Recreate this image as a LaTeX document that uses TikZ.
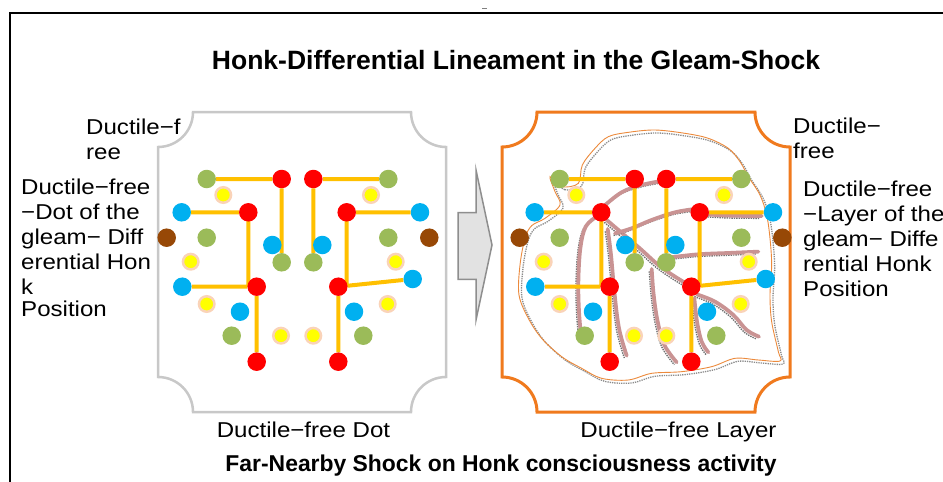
\documentclass[tikz,border=0pt]{standalone}
\usepackage{fontspec}
\setmainfont{Liberation Sans}
\newfontfamily\lblfont[FakeStretch=1.12]{Liberation Sans}

\pgfdeclarelayer{panel}
\pgfdeclarelayer{wire}
\pgfsetlayers{panel,wire,main}

\definecolor{dotgreen}{HTML}{9BBB59}
\definecolor{dotred}{HTML}{FF0000}
\definecolor{dotblue}{HTML}{00B0F0}
\definecolor{dotyellow}{HTML}{FFFF00}
\definecolor{halo}{HTML}{FAD3B8}
\definecolor{dotbrown}{HTML}{974806}
\definecolor{wireorange}{HTML}{FFC000}
\definecolor{panelgray}{HTML}{C8C8C8}
\definecolor{panelorange}{HTML}{F07A1E}
\definecolor{veincol}{HTML}{C99393}
\definecolor{blobcol}{HTML}{EC8A3C}
\definecolor{arrowfill}{HTML}{E2E2E2}
\definecolor{arrowline}{HTML}{8E8E8E}

\tikzset{
  spot/.style={circle, inner sep=0pt, minimum size=18.5pt},
  gdot/.style={spot, fill=dotgreen},
  rdot/.style={spot, fill=dotred},
  bdot/.style={spot, fill=dotblue},
  ndot/.style={spot, fill=dotbrown},
  ydot/.style={circle, inner sep=0pt, minimum size=15.5pt, fill=dotyellow, draw=halo, line width=2.5pt},
  wire/.style={draw=wireorange, line width=4pt},
  veinline/.style={draw=veincol, line width=3.8pt, line cap=round},
  veinshade/.style={densely dotted, draw=black!55, line width=1.4pt, shift={(-7,7)}},
  blobline/.style={draw=blobcol, line width=0.9pt},
  blobshade/.style={densely dotted, draw=black!45, line width=1.3pt, shift={(9,9)}},
  sidetext/.style={inner sep=0pt, align=left, font=\lblfont\fontsize{21.5}{25}\selectfont},
  captext/.style={inner sep=0pt, font=\lblfont\fontsize{21.5}{25}\selectfont},
  headtext/.style={inner sep=0pt, font=\bfseries\fontsize{26.5}{30}\selectfont},
  foottext/.style={inner sep=0pt, font=\bfseries\fontsize{22.9}{26}\selectfont},
}

% frame with concave quarter-circle corners
\newcommand\notchpanel[5][]{%
  \draw[#1] (#2+35,#3) -- (#4-35,#3) arc[start angle=180,end angle=90,radius=35]
    -- (#4,#5-35) arc[start angle=270,end angle=180,radius=35]
    -- (#2+35,#5) arc[start angle=0,end angle=-90,radius=35]
    -- (#2,#3+35) arc[start angle=90,end angle=0,radius=35] -- cycle;}

% one grid of coloured dots with its orange wiring; #1 = name prefix, #2 = x offset
\newcommand\dotgrid[2]{%
  \begin{scope}[shift={(#2,0)}]
    \node[gdot] (#1g1) at (206.7,179) {};
    \node[rdot] (#1r1) at (281.7,179) {};
    \node[rdot] (#1r2) at (313.3,179) {};
    \node[gdot] (#1g2) at (388.3,179) {};
    \node[ydot] (#1y1) at (223.3,195) {};
    \node[ydot] (#1y2) at (371,195) {};
    \node[bdot] (#1b1) at (181.7,212.3) {};
    \node[rdot] (#1r3) at (248.3,212.3) {};
    \node[rdot] (#1r4) at (346.7,212.3) {};
    \node[bdot] (#1b2) at (420,212.3) {};
    \node[ndot] (#1n1) at (166.7,237.7) {};
    \node[gdot] (#1g3) at (206.7,237.7) {};
    \node[gdot] (#1g4) at (388.3,237.7) {};
    \node[ndot] (#1n2) at (429.3,237.7) {};
    \node[bdot] (#1b3) at (272.3,245) {};
    \node[bdot] (#1b4) at (322.3,245) {};
    \node[gdot] (#1g5) at (281.7,262.3) {};
    \node[gdot] (#1g6) at (313.3,262.3) {};
    \node[ydot] (#1y3) at (190.7,261.7) {};
    \node[ydot] (#1y4) at (395.7,261.7) {};
    \node[bdot] (#1b5) at (182.3,286.7) {};
    \node[rdot] (#1r5) at (256.7,286.7) {};
    \node[rdot] (#1r6) at (338.3,286.7) {};
    \node[bdot] (#1b6) at (412.7,279) {};
    \node[ydot] (#1y5) at (206.7,304) {};
    \node[ydot] (#1y6) at (387.7,304) {};
    \node[bdot] (#1b7) at (240,311.7) {};
    \node[bdot] (#1b8) at (354,311.7) {};
    \node[gdot] (#1g7) at (231.7,335.7) {};
    \node[ydot] (#1y7) at (281,335.7) {};
    \node[ydot] (#1y8) at (313.3,335.7) {};
    \node[gdot] (#1g8) at (363.3,335.7) {};
    \node[rdot] (#1r7) at (256.7,361.7) {};
    \node[rdot] (#1r8) at (338.3,361.7) {};
  \end{scope}
  \begin{pgfonlayer}{wire}
    \draw[wire] (#1g1) -- (#1r1)  (#1r1) -- (#1g5)
                (#1r2) -- (#1g2)  (#1r2) -- (#1g6)
                (#1b1) -- (#1r3)  (#1r3.center) -- (#1r3 |- #1r5)
                (#1r5) -- (#1b5)  (#1r5) -- (#1r7)
                (#1r4) -- (#1b2)  (#1r4.center) -- (#1r4 |- #1r6)
                (#1r6) -- (#1b6)  (#1r6) -- (#1r8);
  \end{pgfonlayer}}

% a vein stroke with its stippled shadow
\newcommand\vein[1]{%
  \draw[veinshade] plot[smooth, tension=0.6] coordinates {#1};
  \draw[veinline] plot[smooth, tension=0.6] coordinates {#1};}

\newcommand\blobcurve[1]{%
  \draw[blobshade] plot[smooth cycle, tension=0.55] coordinates {#1};
  \draw[blobline] plot[smooth cycle, tension=0.55] coordinates {#1};}

\begin{document}
\begin{tikzpicture}[x=1pt, y=-1pt]
  \useasboundingbox (0,0) rectangle (943,482);

  % outer frame (top and left edges only)
  \draw[line width=2.5pt] (10,482) -- (10,13) -- (943,13);
  \draw[gray, line width=1pt] (482,8) -- (487,8);

  \begin{pgfonlayer}{panel}
    \fill[white] (0,0) rectangle (943,482);
    \notchpanel[draw=panelgray, line width=2.5pt]{158}{112}{446}{412}
    \notchpanel[draw=panelorange, line width=3pt]{502}{112}{790}{412}

    % transition arrow
    \draw[fill=arrowfill, draw=arrowline, line width=1.5pt, line join=miter]
      (458,212.7) -- (476,212.7) -- (476,170) -- (492,245) -- (476,320)
      -- (476,279.3) -- (458,279.3) -- cycle;

    % layer outline and veins over the right grid
    \begin{scope}[shift={(495,105)}, scale=1/3]
      \blobcurve{(165,215) (200,245) (250,235) (262,180) (300,130) (340,95)
        (400,82) (480,75) (570,85) (640,100) (700,130) (735,170) (760,215)
        (795,270) (815,330) (825,400) (830,480) (825,570) (830,650) (850,740)
        (855,768) (790,765) (720,760) (650,785) (560,800) (470,805) (400,825)
        (320,820) (260,790) (200,755) (140,700) (100,640) (72,570) (75,480)
        (90,400) (110,362) (150,340) (195,300) (180,260)}
      \vein{(325,305) (380,262) (440,240) (515,225)}
      \vein{(305,335) (272,365) (256,430) (250,530) (252,620) (258,690)}
      \vein{(335,345) (390,392) (440,435) (490,480) (540,515) (590,545)}
      \vein{(338,372) (348,450) (358,560) (372,670) (395,752)}
      \vein{(470,492) (476,570) (488,650) (508,720) (545,772)}
      \vein{(600,312) (540,322) (470,345) (410,370) (360,385)}
      \vein{(630,328) (710,332) (800,333)}
      \vein{(520,458) (610,448) (700,444) (790,440)}
      \vein{(605,568) (660,590) (715,630) (755,675) (792,695)}
      \vein{(598,580) (606,650) (620,710) (640,742)}
    \end{scope}
  \end{pgfonlayer}

  \dotgrid{L}{0}
  \dotgrid{R}{353}

  % texts
  \node[headtext, anchor=base] (title) at (516,69) {Honk-Differential Lineament in the Gleam-Shock};
  \node[sidetext, anchor=north west] (ltop) at (86,119) {Ductile−f\\ree};
  \node[sidetext, anchor=north west] (lside) at (21,178.5)
    {Ductile−free\\−Dot of the\\gleam− Diff\\erential Hon\\k\\[-3pt]Position};
  \node[sidetext, anchor=north west] (rtop) at (793,117.5) {Ductile−\\free};
  \node[sidetext, anchor=north west] (rside) at (803,180.5)
    {Ductile−free\\−Layer of the\\gleam− Diffe\\rential Honk\\Position};
  \node[captext, anchor=base] (lcap) at (303.5,437) {Ductile−free Dot};
  \node[captext, anchor=base] (rcap) at (678.5,437) {Ductile−free Layer};
  \node[foottext, anchor=base] (foot) at (501,471) {Far-Nearby Shock on Honk consciousness activity};
\end{tikzpicture}
\end{document}
